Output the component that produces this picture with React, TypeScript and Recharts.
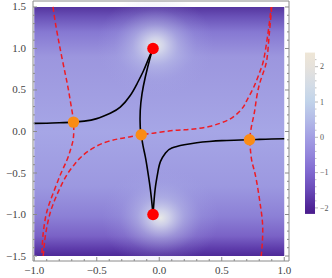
import React from 'react';
import { ComposedChart, Line, Scatter, XAxis, YAxis, ReferenceArea } from 'recharts';

// solid black streamlines
const blackLeft = [
  { x: -1.0, y: 0.098 }, { x: -0.9, y: 0.1 }, { x: -0.8, y: 0.105 }, { x: -0.686, y: 0.113 },
  { x: -0.6, y: 0.125 }, { x: -0.5, y: 0.155 }, { x: -0.392, y: 0.22 }, { x: -0.312, y: 0.293 },
  { x: -0.232, y: 0.434 }, { x: -0.178, y: 0.575 }, { x: -0.125, y: 0.735 }, { x: -0.086, y: 0.876 },
  { x: -0.05, y: 1.0 },
];
const blackMiddle = [
  { x: -0.05, y: 1.0 }, { x: -0.072, y: 0.895 }, { x: -0.112, y: 0.654 }, { x: -0.138, y: 0.454 },
  { x: -0.152, y: 0.253 }, { x: -0.152, y: 0.05 }, { x: -0.144, y: -0.04 }, { x: -0.13, y: -0.17 },
  { x: -0.112, y: -0.3 }, { x: -0.095, y: -0.45 }, { x: -0.078, y: -0.62 }, { x: -0.063, y: -0.8 },
  { x: -0.05, y: -1.0 },
];
const blackRight = [
  { x: 1.0, y: -0.088 }, { x: 0.9, y: -0.09 }, { x: 0.8, y: -0.095 }, { x: 0.722, y: -0.1 },
  { x: 0.6, y: -0.105 }, { x: 0.5, y: -0.11 }, { x: 0.4, y: -0.12 }, { x: 0.3, y: -0.135 },
  { x: 0.2, y: -0.16 }, { x: 0.1, y: -0.2 }, { x: 0.05, y: -0.26 }, { x: 0.01, y: -0.36 },
  { x: -0.01, y: -0.48 }, { x: -0.03, y: -0.66 }, { x: -0.042, y: -0.84 }, { x: -0.05, y: -1.0 },
];

// red dashed streamlines
const dashLeft = [
  { x: -0.85, y: 1.5 }, { x: -0.83, y: 1.3 }, { x: -0.806, y: 1.1 }, { x: -0.78, y: 0.9 },
  { x: -0.752, y: 0.695 }, { x: -0.73, y: 0.53 }, { x: -0.712, y: 0.373 }, { x: -0.695, y: 0.22 },
  { x: -0.686, y: 0.113 }, { x: -0.684, y: 0.0 }, { x: -0.69, y: -0.108 }, { x: -0.71, y: -0.22 },
  { x: -0.74, y: -0.35 }, { x: -0.785, y: -0.5 }, { x: -0.83, y: -0.67 }, { x: -0.875, y: -0.85 },
  { x: -0.905, y: -1.0 }, { x: -0.922, y: -1.15 }, { x: -0.933, y: -1.3 }, { x: -0.939, y: -1.5 },
];
const dashMiddle = [
  { x: -0.928, y: -1.5 }, { x: -0.915, y: -1.3 }, { x: -0.895, y: -1.12 }, { x: -0.86, y: -0.92 },
  { x: -0.8, y: -0.7 }, { x: -0.738, y: -0.52 }, { x: -0.68, y: -0.4 }, { x: -0.62, y: -0.3 },
  { x: -0.53, y: -0.2 }, { x: -0.43, y: -0.13 }, { x: -0.33, y: -0.09 }, { x: -0.24, y: -0.065 },
  { x: -0.144, y: -0.04 }, { x: -0.05, y: -0.02 }, { x: 0.088, y: 0.008 }, { x: 0.2, y: 0.02 },
  { x: 0.3, y: 0.035 }, { x: 0.4, y: 0.06 }, { x: 0.488, y: 0.1 }, { x: 0.56, y: 0.145 },
  { x: 0.62, y: 0.21 }, { x: 0.67, y: 0.29 }, { x: 0.7, y: 0.373 }, { x: 0.745, y: 0.5 },
  { x: 0.78, y: 0.62 }, { x: 0.81, y: 0.74 }, { x: 0.834, y: 0.855 }, { x: 0.86, y: 1.08 },
  { x: 0.88, y: 1.3 }, { x: 0.896, y: 1.5 },
];
const dashRight = [
  { x: 0.9, y: 1.5 }, { x: 0.888, y: 1.3 }, { x: 0.876, y: 1.1 }, { x: 0.86, y: 0.86 },
  { x: 0.83, y: 0.7 }, { x: 0.8, y: 0.56 }, { x: 0.778, y: 0.4 }, { x: 0.76, y: 0.22 },
  { x: 0.74, y: 0.08 }, { x: 0.728, y: -0.03 }, { x: 0.722, y: -0.1 }, { x: 0.728, y: -0.2 },
  { x: 0.74, y: -0.35 }, { x: 0.765, y: -0.5 }, { x: 0.79, y: -0.7 }, { x: 0.81, y: -0.9 },
  { x: 0.826, y: -1.1 }, { x: 0.826, y: -1.3 }, { x: 0.816, y: -1.5 },
];

const peakPoints = [{ x: -0.05, y: 1.0 }, { x: -0.05, y: -1.0 }];
const saddlePoints = [{ x: -0.686, y: 0.113 }, { x: -0.144, y: -0.04 }, { x: 0.722, y: -0.1 }];

// frame ticks
const xMinorTicks = [-1, -0.9, -0.8, -0.7, -0.6, -0.5, -0.4, -0.3, -0.2, -0.1, 0, 0.1, 0.2, 0.3, 0.4, 0.5, 0.6, 0.7, 0.8, 0.9, 1];
const yMinorTicks = [-1.5, -1.4, -1.3, -1.2, -1.1, -1, -0.9, -0.8, -0.7, -0.6, -0.5, -0.4, -0.3, -0.2, -0.1, 0, 0.1, 0.2, 0.3, 0.4, 0.5, 0.6, 0.7, 0.8, 0.9, 1, 1.1, 1.2, 1.3, 1.4, 1.5];
const xMajorTicks = [-1, -0.5, 0, 0.5, 1];
const xTickLabels = ['\u22121.0', '\u22120.5', '0.0', '0.5', '1.0'];
const yMajorTicks = [-1.5, -1, -0.5, 0, 0.5, 1, 1.5];
const yTickLabels = ['\u22121.5', '\u22121.0', '\u22120.5', '0.0', '0.5', '1.0', '1.5'];

// colour bar
const barTicks = [2, 1, 0, -1, -2];
const barLabels = ['2', '1', '0', '\u22121', '\u22122'];
const barMinorTicks = [2.2, 1.8, 1.6, 1.4, 1.2, 0.8, 0.6, 0.4, 0.2, -0.2, -0.4, -0.6, -0.8, -1.2, -1.4, -1.6, -1.8];

const frameColor = '#8a8a8a';
const labelColor = '#444';
const font = '"Liberation Serif", "DejaVu Serif", serif';

const makeTick = (side: string, majors: number[], labels: string[] | null) => (props: any) => {
  const { x, y, payload } = props;
  const idx = majors.findIndex((m) => Math.abs(m - payload.value) < 1e-6);
  const len = idx >= 0 ? 4 : 2;
  let line;
  if (side === 'bottom') line = <line x1={x} y1={y} x2={x} y2={y - len} stroke={frameColor} />;
  else if (side === 'top') line = <line x1={x} y1={y} x2={x} y2={y + len} stroke={frameColor} />;
  else if (side === 'left') line = <line x1={x} y1={y} x2={x + len} y2={y} stroke={frameColor} />;
  else line = <line x1={x} y1={y} x2={x - len} y2={y} stroke={frameColor} />;
  let text = null;
  if (labels && idx >= 0) {
    text = side === 'bottom'
      ? <text x={x} y={y + 12.5} textAnchor="middle" fontSize={11} fontFamily={font} fill={labelColor}>{labels[idx]}</text>
      : <text x={x - 7} y={y + 3.5} textAnchor="end" fontSize={11} fontFamily={font} fill={labelColor}>{labels[idx]}</text>;
  }
  return <g>{line}{text}</g>;
};

const xDomain = [-1.01, 1.038];
const yDomain = [-1.56, 1.572];

// colour bar geometry (value -> pixel)
const barY = (v: number) => 66.7 + (2 - v) * 35.3;

const ColorBar = () => (
  <svg width={332} height={278} style={{ position: 'absolute', left: 0, top: 0, pointerEvents: 'none' }}>
    <defs>
      <linearGradient id="bgGrad" x1="0" y1="0" x2="0" y2="1">
        <stop offset="0" stopColor="#55359f" />
        <stop offset="0.04" stopColor="#6a52b8" />
        <stop offset="0.1" stopColor="#8678d2" />
        <stop offset="0.2" stopColor="#9c96de" />
        <stop offset="0.5" stopColor="#a6a6e6" />
        <stop offset="0.72" stopColor="#9c98e0" />
        <stop offset="0.84" stopColor="#8c80d6" />
        <stop offset="0.92" stopColor="#7a62c6" />
        <stop offset="0.97" stopColor="#5e3cab" />
        <stop offset="1" stopColor="#4e2a98" />
      </linearGradient>
      <radialGradient id="glowGrad" cx="0.5" cy="0.5" r="0.5">
        <stop offset="0" stopColor="#eceee8" stopOpacity="0.95" />
        <stop offset="0.15" stopColor="#dfe4ee" stopOpacity="0.8" />
        <stop offset="0.4" stopColor="#c6cdec" stopOpacity="0.45" />
        <stop offset="0.7" stopColor="#b0b4e8" stopOpacity="0.15" />
        <stop offset="1" stopColor="#a6a6e6" stopOpacity="0" />
      </radialGradient>
      <linearGradient id="barGrad" x1="0" y1="0" x2="0" y2="1">
        <stop offset="0" stopColor="#efe6d6" />
        <stop offset="0.09" stopColor="#e6e2dc" />
        <stop offset="0.2" stopColor="#d4dce6" />
        <stop offset="0.3" stopColor="#c2d4ea" />
        <stop offset="0.41" stopColor="#b4bce8" />
        <stop offset="0.52" stopColor="#a4a0e4" />
        <stop offset="0.63" stopColor="#9486dc" />
        <stop offset="0.74" stopColor="#8068d0" />
        <stop offset="0.85" stopColor="#6a4ab8" />
        <stop offset="0.95" stopColor="#52289a" />
        <stop offset="1" stopColor="#4a1c8c" />
      </linearGradient>
    </defs>
    <rect x={305} y={barY(2.4)} width={10} height={barY(-2.17) - barY(2.4)} fill="url(#barGrad)" />
    {barMinorTicks.map((v) => (
      <line key={'m' + v} x1={315} x2={316.5} y1={barY(v)} y2={barY(v)} stroke="#999" strokeWidth={0.6} />
    ))}
    {barTicks.map((v, i) => (
      <g key={v}>
        <line x1={315} x2={318} y1={barY(v)} y2={barY(v)} stroke="#999" strokeWidth={0.7} />
        <text x={320} y={barY(v) + 2.7} fontSize={8} fontFamily={font} fill="#555">{barLabels[i]}</text>
      </g>
    ))}
  </svg>
);

export default function App() {
  return (
    <div style={{ position: 'absolute', left: 0, top: 0, width: 332, height: 278, background: '#fff' }}>
      <ComposedChart width={332} height={278} margin={{ top: 0, right: 42, bottom: 0, left: 0 }}>
        <XAxis dataKey="x" type="number" domain={xDomain} allowDataOverflow ticks={xMinorTicks} interval={0}
          height={17} tickSize={0} tickMargin={0} tickLine={false} axisLine={{ stroke: frameColor }}
          tick={makeTick('bottom', xMajorTicks, xTickLabels)} />
        <XAxis xAxisId="top" orientation="top" type="number" domain={xDomain} allowDataOverflow ticks={xMinorTicks}
          interval={0} height={1} tickSize={0} tickMargin={0} tickLine={false} axisLine={{ stroke: frameColor }}
          tick={makeTick('top', xMajorTicks, null)} />
        <YAxis dataKey="y" type="number" domain={yDomain} allowDataOverflow ticks={yMinorTicks} interval={0}
          width={33} tickSize={0} tickMargin={0} tickLine={false} axisLine={{ stroke: frameColor }}
          tick={makeTick('left', yMajorTicks, yTickLabels)} />
        <YAxis yAxisId="right" orientation="right" type="number" domain={yDomain} allowDataOverflow ticks={yMinorTicks}
          interval={0} width={1} tickSize={0} tickMargin={0} tickLine={false} axisLine={{ stroke: frameColor }}
          tick={makeTick('right', yMajorTicks, null)} />

        <ReferenceArea x1={-1} x2={1} y1={-1.5} y2={1.5} fill="url(#bgGrad)" fillOpacity={1} stroke="none" />
        <ReferenceArea x1={-0.5} x2={0.44} y1={0.42} y2={1.66} fill="url(#glowGrad)" fillOpacity={1} stroke="none" ifOverflow="hidden" />
        <ReferenceArea x1={-0.46} x2={0.48} y1={-1.66} y2={-0.42} fill="url(#glowGrad)" fillOpacity={1} stroke="none" ifOverflow="hidden" />

        <Line data={blackLeft} dataKey="y" type="natural" stroke="#000" strokeWidth={1.6} dot={false} activeDot={false} isAnimationActive={false} />
        <Line data={blackMiddle} dataKey="y" type="natural" stroke="#000" strokeWidth={1.6} dot={false} activeDot={false} isAnimationActive={false} />
        <Line data={blackRight} dataKey="y" type="natural" stroke="#000" strokeWidth={1.6} dot={false} activeDot={false} isAnimationActive={false} />
        <Line data={dashLeft} dataKey="y" type="natural" stroke="#ee1c24" strokeWidth={1.5} strokeDasharray="5 3" dot={false} activeDot={false} isAnimationActive={false} />
        <Line data={dashMiddle} dataKey="y" type="natural" stroke="#ee1c24" strokeWidth={1.5} strokeDasharray="5 3" dot={false} activeDot={false} isAnimationActive={false} />
        <Line data={dashRight} dataKey="y" type="natural" stroke="#ee1c24" strokeWidth={1.5} strokeDasharray="5 3" dot={false} activeDot={false} isAnimationActive={false} />

        <Scatter data={peakPoints} dataKey="y" isAnimationActive={false}
          shape={(p: any) => <circle cx={p.cx} cy={p.cy} r={5.8} fill="#ff0000" />} />
        <Scatter data={saddlePoints} dataKey="y" isAnimationActive={false}
          shape={(p: any) => <circle cx={p.cx} cy={p.cy} r={5.7} fill="#fa8c16" />} />
      </ComposedChart>
      <ColorBar />
    </div>
  );
}
